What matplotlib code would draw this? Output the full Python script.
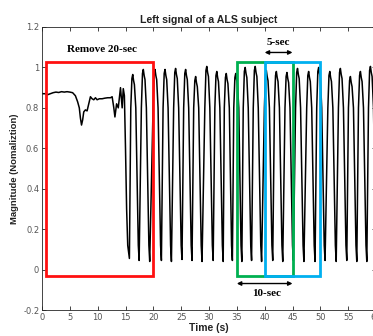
import matplotlib
matplotlib.use("Agg")
import matplotlib.pyplot as plt
from matplotlib.patches import Rectangle

# ---- data ----
pre_t = [0.0, 0.5, 1.0, 1.5, 2.0, 2.5, 3.0, 3.5, 4.0, 4.5, 5.0, 5.5, 6.0, 6.4, 6.7, 6.9, 7.1,
         7.3, 7.5, 7.8, 8.1, 8.4, 8.7, 9.0, 9.3, 9.6, 9.9, 10.3, 10.8, 11.3, 11.8, 12.3, 12.6,
         12.9, 13.1, 13.4, 13.7, 14.1, 14.4, 14.6, 14.8, 15.0, 15.2, 15.4, 15.7]
pre_v = [0.87, 0.87, 0.865, 0.87, 0.875, 0.878, 0.876, 0.88, 0.878, 0.88, 0.878, 0.875, 0.86,
         0.83, 0.80, 0.75, 0.715, 0.74, 0.78, 0.79, 0.785, 0.82, 0.855, 0.845, 0.84, 0.85, 0.84,
         0.845, 0.845, 0.848, 0.85, 0.85, 0.855, 0.80, 0.755, 0.82, 0.80, 0.90, 0.80, 0.895,
         0.86, 0.60, 0.30, 0.12, 0.055]

peak_t = [16.3, 18.2, 20.3, 22.1, 24.0, 25.8, 27.6, 29.6, 31.4, 33.1, 34.8, 36.5, 38.3, 40.3,
          42.1, 44.0, 45.9, 47.9, 49.7, 51.7, 53.6, 55.4, 57.2, 59.0]
peak_v = [0.965, 0.99, 0.99, 0.99, 0.995, 0.99, 0.955, 1.005, 0.98, 0.97, 0.97, 1.0, 1.005,
          0.985, 0.98, 0.975, 0.995, 0.98, 1.0, 0.98, 0.995, 0.955, 0.98, 1.005]
trough_t = [17.45, 19.35, 21.45, 23.25, 25.15, 26.95, 28.75, 30.75, 32.55, 34.2, 35.9, 37.65,
            39.45, 41.45, 43.25, 45.15, 47.05, 49.05, 50.85, 52.85, 54.75, 56.55, 58.35, 60.1]
trough_v = [0.045, 0.04, 0.045, 0.04, 0.05, 0.045, 0.04, 0.045, 0.04, 0.045, 0.04, 0.045,
            0.04, 0.045, 0.04, 0.045, 0.04, 0.04, 0.045, 0.04, 0.045, 0.04, 0.04, 0.045]

rise_v = 0.80
shoulder_v = 0.12

sig_t = list(pre_t)
sig_v = list(pre_v)
for tp, vp, tt, vt in zip(peak_t, peak_v, trough_t, trough_v):
    sig_t += [tp - 0.35, tp - 0.15, tp, tp + 0.15, tp + 0.3, tp + 0.55, tt - 0.15, tt]
    sig_v += [rise_v, vp - 0.02, vp, vp - 0.03, vp - 0.05, rise_v, shoulder_v, vt]

boxes = [  # (x0, x1, colour)
    (0.7, 20.0, "#FF1010"),
    (35.0, 45.0, "#00B050"),
    (40.0, 50.0, "#00B0F0"),
]
box_bottom, box_top = -0.033, 1.028

xticks = list(range(0, 61, 5))
yticks = [-0.2, 0, 0.2, 0.4, 0.6, 0.8, 1, 1.2]
yticklabels = ["-0.2", "0", "0.2", "0.4", "0.6", "0.8", "1", "1.2"]

# ---- figure ----
fig = plt.figure(figsize=(3.73, 3.36), dpi=100)
ax = fig.add_axes([42 / 373, 26 / 336, 334 / 373, 283 / 336])

ax.plot(sig_t, sig_v, color="black", lw=1.1, solid_joinstyle="round")

for x0, x1, c in boxes:
    ax.add_patch(Rectangle((x0, box_bottom), x1 - x0, box_top - box_bottom,
                           fill=False, edgecolor=c, lw=2.0, zorder=3))

serif = ["Liberation Serif", "DejaVu Serif"]
sans = ["Liberation Sans", "DejaVu Sans"]
ax.text(10.8, 1.089, "Remove 20-sec", fontsize=8, fontweight="bold", family=serif,
        ha="center", va="center")
ax.text(42.5, 1.124, "5-sec", fontsize=8, fontweight="bold", family=serif,
        ha="center", va="center")
ax.annotate("", xy=(40, 1.074), xytext=(45, 1.074),
            arrowprops=dict(arrowstyle="<|-|>", color="black", lw=1.0,
                            mutation_scale=6, shrinkA=0, shrinkB=0))
ax.annotate("", xy=(35, -0.069), xytext=(45, -0.069),
            arrowprops=dict(arrowstyle="<|-|>", color="black", lw=1.0,
                            mutation_scale=6, shrinkA=0, shrinkB=0))
ax.text(40.3, -0.12, "10-sec", fontsize=8, fontweight="bold", family=serif,
        ha="center", va="center")

ax.set_xlim(0, 60)
ax.set_ylim(-0.2, 1.2)
ax.set_xticks(xticks)
ax.set_yticks(yticks)
ax.set_yticklabels(yticklabels)
ax.tick_params(direction="in", length=3, width=0.6, labelsize=6, colors="#262626",
               labelcolor="#555555", top=True, right=True, pad=2)
for s in ax.spines.values():
    s.set_color("#262626")
    s.set_linewidth(0.6)

ax.set_title("Left signal of a ALS subject", fontsize=7.6, fontweight="bold",
             family=sans, pad=3, color="#222222")
ax.set_xlabel("Time (s)", fontsize=7.5, fontweight="bold", family=sans,
              labelpad=1, color="#222222")
ax.set_ylabel("Magnitude (Nomaliztion)", fontsize=6.8, fontweight="bold", family=sans,
              labelpad=3, color="#222222")

fig.savefig("out.png", dpi=100)
